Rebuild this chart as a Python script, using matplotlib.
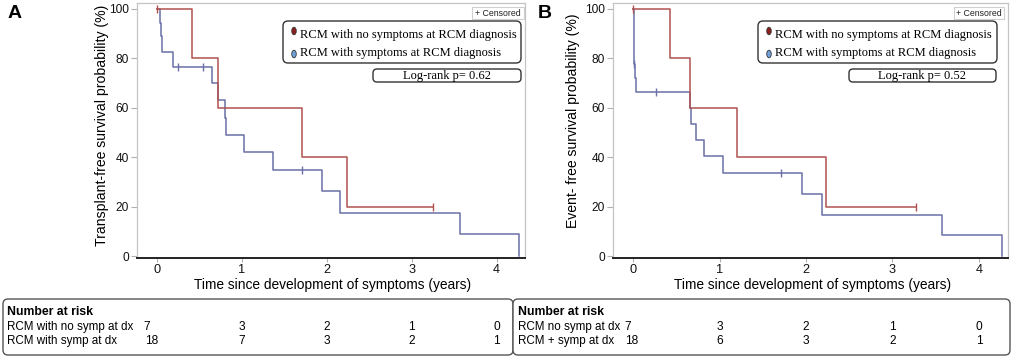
import matplotlib
matplotlib.use("Agg")
import matplotlib.pyplot as plt
from matplotlib.patches import FancyBboxPatch, Ellipse, Rectangle
from matplotlib.transforms import IdentityTransform, blended_transform_factory

# ---------------- data ----------------
xticks = [0, 1, 2, 3, 4]
yticks = [0, 20, 40, 60, 80, 100]

# Panel A (transplant-free survival)
a_red_t = [0, 0.41, 0.72, 1.71, 2.24, 3.25]
a_red_s = [100, 80, 60, 40, 20, 20]
a_red_cens_t = [0, 3.25]
a_red_cens_s = [100, 20]
a_blue_t = [0, 0.04, 0.05, 0.06, 0.19, 0.65, 0.72, 0.80, 0.81, 1.03, 1.37, 1.94, 2.16, 3.57, 4.26]
a_blue_s = [100, 94.4, 88.9, 82.5, 76.6, 70, 63, 56, 49, 42, 35, 26.3, 17.5, 8.75, 0]
a_blue_cens_t = [0.25, 0.54, 1.71]
a_blue_cens_s = [76.6, 76.6, 35]

# Panel B (event-free survival)
b_red_t = [0, 0.42, 0.66, 1.20, 2.23, 3.27]
b_red_s = [100, 80, 60, 40, 20, 20]
b_red_cens_t = [0, 3.27]
b_red_cens_s = [100, 20]
b_blue_t = [0, 0.005, 0.02, 0.03, 0.66, 0.67, 0.73, 0.82, 1.04, 1.95, 2.18, 3.57, 4.27]
b_blue_s = [100, 77.8, 72.2, 66.4, 60, 53.5, 47, 40.4, 33.7, 25.3, 16.8, 8.4, 0]
b_blue_cens_t = [0.01, 0.26, 1.71]
b_blue_cens_s = [77.8, 66.4, 33.7]

# Number at risk
risk_times = [0, 1, 2, 3, 4]
a_risk_nosymp = [7, 3, 2, 1, 0]
a_risk_symp = [18, 7, 3, 2, 1]
b_risk_nosymp = [7, 3, 2, 1, 0]
b_risk_symp = [18, 6, 3, 2, 1]

legend_labels = ["RCM with no symptoms at RCM diagnosis", "RCM with symptoms at RCM diagnosis"]
a_ylabel = "Transplant-free survival probability (%)"
b_ylabel = "Event- free survival probability (%)"
xlabel = "Time since development of symptoms (years)"
a_p = "Log-rank p= 0.62"
b_p = "Log-rank p= 0.52"
a_rows = ["RCM with no symp at dx", "RCM with symp at dx"]
b_rows = ["RCM no symp at dx", "RCM + symp at dx"]

# ---------------- style ----------------
W, H = 1013, 357
RED = "#b0524f"
BLUE = "#6a70a8"
SANS = "Liberation Sans"
SERIF = "Liberation Serif"
plt.rcParams["font.family"] = SANS

fig = plt.figure(figsize=(W / 100, H / 100), dpi=100)
ident = IdentityTransform()


def fx(x):
    return x / W


def fy(y):
    return 1 - y / H


def rbox(x0, y0, x1, y1, ec="#333333", lw=1.0, r=5):
    p = FancyBboxPatch((x0, H - y1), x1 - x0, y1 - y0,
                       boxstyle=f"round,pad=0,rounding_size={r}",
                       transform=ident, fc="white", ec=ec, lw=lw, zorder=5)
    fig.add_artist(p)


def panel(ax_px, xlim, t_red, s_red, ct_red, cs_red, t_blue, s_blue, ct_blue, cs_blue,
          ylabel, ylab_x, ylab_y, letter, letter_x, leg, pbox, cbox, ptext):
    x0, x1 = ax_px
    ax = fig.add_axes([fx(x0), fy(257.5), fx(x1 - x0), (257.5 - 3) / H])
    ax.set_xlim(*xlim)
    ax.set_ylim(-0.6, 102.4)
    ax.step(t_blue, s_blue, where="post", color=BLUE, lw=1.1, zorder=3)
    ax.step(t_red, s_red, where="post", color=RED, lw=1.1, zorder=3)
    ax.plot(ct_blue, cs_blue, ls="none", marker="|", ms=6, mew=1.0, color=BLUE, zorder=4)
    ax.plot(ct_red, cs_red, ls="none", marker="|", ms=6, mew=1.0, color=RED, zorder=4)
    for s in ["left", "top", "right"]:
        ax.spines[s].set_color("#c4c4c4")
        ax.spines[s].set_linewidth(0.9)
    ax.spines["bottom"].set_color("#222222")
    ax.spines["bottom"].set_linewidth(1.4)
    ax.set_xticks(xticks)
    ax.set_yticks(yticks)
    ax.tick_params(axis="y", length=4, color="#b0b0b0", labelsize=8.6, pad=2, labelcolor="#111111")
    ax.tick_params(axis="x", length=3, color="#b0b0b0", labelsize=9.2, pad=2, labelcolor="#111111")
    fig.text(fx(ylab_x), fy(ylab_y), ylabel, rotation=90, ha="center", va="center", fontsize=10.1)
    fig.text(fx((x0 + x1) / 2 + 2), fy(285), xlabel, ha="center", va="center", fontsize=9.9)
    fig.text(fx(letter_x), fy(14), letter, ha="center", va="center", fontsize=14, fontweight="bold")
    # legend
    lx0, lx1 = leg
    rbox(lx0, 21, lx1, 63, lw=1.0, r=5)
    fig.add_artist(Ellipse((lx0 + 11, H - 31), 4.5, 7.5, transform=ident, fc="#8c1f1f", ec="#333333", lw=0.6, zorder=6))
    fig.add_artist(Ellipse((lx0 + 11, H - 54), 4.5, 7.5, transform=ident, fc="#6fa3dc", ec="#333333", lw=0.6, zorder=6))
    fig.text(fx(lx0 + 17), fy(35), legend_labels[0], family=SERIF, fontsize=9.0, va="center", ha="left", zorder=7)
    fig.text(fx(lx0 + 17), fy(53), legend_labels[1], family=SERIF, fontsize=9.0, va="center", ha="left", zorder=7)
    # p-value
    px0, px1 = pbox
    rbox(px0, 69, px1, 82, lw=1.0, r=4)
    fig.text(fx((px0 + px1) / 2), fy(76), ptext, family=SERIF, fontsize=9.0, va="center", ha="center", zorder=7)
    # censored box
    cx0, cx1 = cbox
    fig.add_artist(Rectangle((cx0, H - 19), cx1 - cx0, 12, transform=ident, fc="white", ec="#cfcfcf", lw=0.8, zorder=5))
    fig.text(fx((cx0 + cx1) / 2), fy(13), "+ Censored", fontsize=6.3, va="center", ha="center", zorder=7, color="#222222")
    return ax


axA = panel((137, 525), (-0.232, 4.333), a_red_t, a_red_s, a_red_cens_t, a_red_cens_s,
            a_blue_t, a_blue_s, a_blue_cens_t, a_blue_cens_s,
            a_ylabel, 102, 125, "A", 15, (283, 521), (373, 521), (472, 524), a_p)
axB = panel((613, 1008), (-0.235, 4.337), b_red_t, b_red_s, b_red_cens_t, b_red_cens_s,
            b_blue_t, b_blue_s, b_blue_cens_t, b_blue_cens_s,
            b_ylabel, 573, 121, "B", 545, (758, 997), (849, 996), (954, 1004), b_p)

# ---------------- number-at-risk tables ----------------
rbox(3, 299, 513, 355, ec="#555555", lw=1.0, r=5)
rbox(513, 299, 1010, 355, ec="#555555", lw=1.0, r=5)


def risk_table(ax, x_text, rows, r1, r2, off1, off2):
    fig.text(fx(x_text), fy(312), "Number at risk", fontweight="bold", fontsize=8.8, va="center", ha="left", zorder=7)
    fig.text(fx(x_text), fy(327), rows[0], fontsize=8.4, va="center", ha="left", zorder=7)
    fig.text(fx(x_text), fy(341), rows[1], fontsize=8.4, va="center", ha="left", zorder=7)
    tr = blended_transform_factory(ax.transData, fig.transFigure)
    for i, t in enumerate(risk_times):
        o1 = off1 if t == 0 else 0
        o2 = off2 if t == 0 else 0
        fig.text(t + o1, fy(327), str(r1[i]), transform=tr, fontsize=8.6, va="center", ha="center", zorder=7)
        fig.text(t + o2, fy(341), str(r2[i]), transform=tr, fontsize=8.6, va="center", ha="center", zorder=7)


risk_table(axA, 7, a_rows, a_risk_nosymp, a_risk_symp, -0.12, -0.06)
risk_table(axB, 518, b_rows, b_risk_nosymp, b_risk_symp, -0.06, -0.02)

fig.savefig("out.png", dpi=100)
